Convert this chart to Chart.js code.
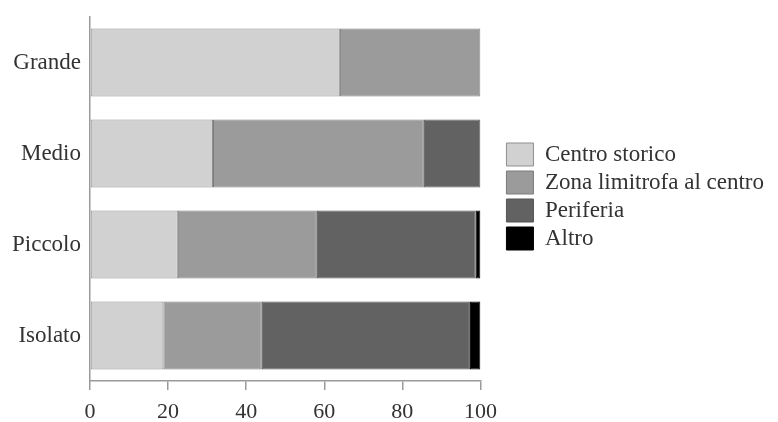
<!DOCTYPE html>
<html>
<head>
<meta charset="utf-8">
<script src="https://cdn.jsdelivr.net/npm/chart.js@4/dist/chart.umd.min.js"></script>
<style>
  html, body { margin: 0; padding: 0; background: #fff; }
  #wrap { width: 778px; height: 422px; }
</style>
</head>
<body>
<div id="wrap"><canvas id="grafico"></canvas></div>
<script>
const categorie = ['Grande', 'Medio', 'Piccolo', 'Isolato'];
const centroStorico = [64, 31.5, 22.5, 18.8];
const zonaLimitrofa = [36, 54, 35.6, 25.2];
const periferia = [null, 14.5, 40.7, 53.3];
const altro = [null, null, 1.2, 2.7];
const tickX = [0, 20, 40, 60, 80, 100];

const serif = 'Liberation Serif';
const grigioAsse = '#9a9a9a';

// sposta la legenda a destra del grafico
const spostaLegenda = {
  id: 'spostaLegenda',
  afterLayout(chart) {
    const lg = chart.legend;
    const w = lg.right - lg.left, h = lg.bottom - lg.top;
    lg.left = chart.chartArea.right + 21;
    lg.right = lg.left + w;
    lg.top = 138;
    lg.bottom = lg.top + h;
  }
};

const ctx = document.getElementById('grafico').getContext('2d');
const grafico = new Chart(ctx, {
  type: 'bar',
  data: {
    labels: categorie,
    datasets: [
      { label: 'Centro storico', data: centroStorico, backgroundColor: '#d1d1d1', borderColor: '#8f8f8f' },
      { label: 'Zona limitrofa al centro', data: zonaLimitrofa, backgroundColor: '#9b9b9b', borderColor: '#7c7c7c' },
      { label: 'Periferia', data: periferia, backgroundColor: '#626262', borderColor: '#555555' },
      { label: 'Altro', data: altro, backgroundColor: '#000000', borderColor: '#000000' }
    ]
  },
  options: {
    indexAxis: 'y',
    responsive: true,
    maintainAspectRatio: false,
    animation: false,
    layout: { padding: { top: 17, right: 25, bottom: 0, left: 0 } },
    datasets: {
      bar: {
        borderWidth: 1,
        borderSkipped: false,
        categoryPercentage: 1,
        barPercentage: 0.745
      }
    },
    scales: {
      x: {
        stacked: true,
        min: 0,
        max: 100,
        afterBuildTicks: s => { s.ticks = tickX.map(v => ({ value: v })); },
        afterFit: s => { s.height = 41; },
        grid: { drawOnChartArea: false, drawTicks: true, tickLength: 9, color: grigioAsse, lineWidth: 1.5 },
        border: { color: grigioAsse, width: 1.5 },
        ticks: { color: '#333', padding: 9, font: { family: serif, size: 22 } }
      },
      y: {
        stacked: true,
        afterFit: s => { s.width = 90; s.paddingTop = 0; s.paddingBottom = 0; },
        grid: { drawOnChartArea: false, drawTicks: false },
        border: { color: grigioAsse, width: 1.5 },
        ticks: { color: '#333', padding: 9, font: { family: serif, size: 23 } }
      }
    },
    plugins: {
      legend: {
        position: 'right',
        align: 'start',
        maxWidth: 320,
        labels: {
          boxWidth: 27,
          boxHeight: 23,
          padding: 5,
          color: '#333',
          font: { family: serif, size: 23 }
        }
      },
      tooltip: { enabled: false }
    }
  },
  plugins: [spostaLegenda]
});
</script>
</body>
</html>
